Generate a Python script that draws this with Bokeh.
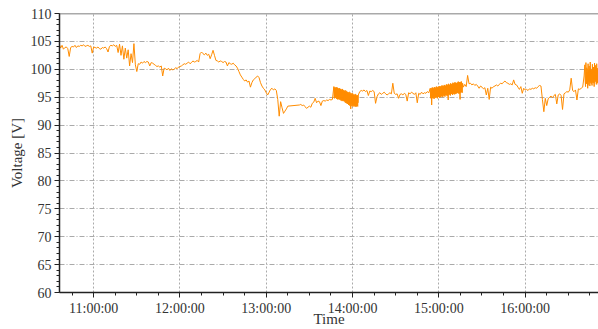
import pandas as pd
from bokeh.plotting import figure
from bokeh.models import (ColumnDataSource, FixedTicker, DatetimeTickFormatter,
                          SingleIntervalTicker, Range1d, Span)
from bokeh.embed import file_html
from bokeh.resources import INLINE

DAY = "2021-07-01"

# Voltage log, split into runs sampled every 60 s or every 15 s
run_1036 = [  # 10:36 .. 13:15, 60 s
    104.6, 103.8, 104.3, 103.6, 103.9, 104.0, 103.7, 102.3, 103.9, 104.1,
    104.0, 104.3, 103.9, 104.2, 104.1, 104.3, 104.2, 104.4, 104.1, 104.2,
    104.3, 104.1, 104.2, 102.9, 104.0, 103.9, 103.8, 104.0, 103.7, 103.6,
    103.9, 103.8, 104.0, 103.7, 103.1, 104.1, 104.3, 104.2, 104.4, 104.1,
    104.3, 103.0, 104.5, 102.5, 104.2, 101.8, 103.8, 102.0, 103.5, 100.6,
    102.8, 101.2, 104.6, 100.8, 99.6, 101.0, 100.9, 101.3, 101.1, 101.4,
    101.2, 101.4, 101.3, 100.6, 101.2, 101.1, 100.9, 100.7, 100.5, 100.6,
    100.4, 100.6, 98.8, 100.2, 100.1, 99.9, 100.2, 99.8, 100.1, 99.9,
    100.0, 100.3, 100.1, 100.4, 100.5, 100.6, 100.8, 101.0, 100.9, 101.1,
    101.3, 101.0, 101.2, 101.5, 101.3, 101.4, 101.6, 101.3, 102.8, 103.1,
    102.8, 102.6, 102.9, 102.5, 102.7, 101.9, 102.6, 103.4, 102.5, 101.6,
    101.5, 101.3, 101.5, 101.4, 101.2, 101.4, 101.3, 100.6, 101.2, 101.0,
    100.9, 101.1, 100.8, 100.6, 100.2, 99.6, 99.0, 98.6, 98.2, 97.9,
    98.1, 97.7, 97.9, 96.8, 97.6, 98.1, 98.3, 98.6, 98.8, 98.5,
    97.6, 97.0, 96.6, 96.3, 95.8, 95.4, 95.9, 96.4, 96.6, 96.3,
    96.5, 96.2, 94.6, 91.6, 94.2, 93.1, 92.1, 92.5, 92.9, 93.4,
]
run_1323 = [  # 13:23 .. 13:46, 60 s
    93.6, 93.7, 93.5, 93.6, 93.3, 93.0, 93.2, 93.4, 93.2, 93.9,
    94.1, 94.8, 94.0, 94.3, 94.2, 93.5, 94.3, 94.4, 94.3, 94.5,
    94.4, 94.6, 94.5, 94.6,
]
run_1347 = [  # 13:47 .. 14:04, 15 s
    96.9, 95.1, 94.8, 96.6, 95.4, 94.9, 96.8, 96.2, 94.7, 95.8, 96.7, 94.6,
    96.5, 95.0, 94.7, 96.6, 96.1, 94.5, 95.6, 96.5, 94.4, 96.3, 94.9, 94.3,
    96.4, 95.7, 94.4, 96.2, 94.8, 94.2, 96.1, 95.5, 94.0, 96.0, 94.6, 93.9,
    95.9, 95.2, 93.8, 95.8, 94.1, 93.6, 95.7, 95.0, 93.5, 95.6, 94.3, 92.9,
    95.5, 94.8, 93.4, 95.5, 93.9, 93.3, 95.4, 94.6, 93.4, 95.3, 93.8, 93.3,
    95.4, 94.2, 93.3, 95.2, 93.6, 93.4, 95.3, 94.0, 95.4,
]
run_1405 = [  # 14:05 .. 14:53, 60 s
    96.0, 96.2, 96.1, 96.3, 96.0, 96.2, 95.3, 96.1, 96.0, 96.2,
    96.0, 93.9, 95.1, 95.6, 95.8, 95.5, 95.7, 95.9, 95.6, 95.4,
    95.6, 95.8, 95.6, 97.5, 95.7, 95.5, 95.6, 94.8, 95.5, 95.6,
    95.4, 95.7, 95.5, 94.3, 95.8, 95.6, 95.9, 95.7, 95.5, 95.8,
    94.0, 95.7, 95.5, 95.9, 95.6, 95.8, 95.7, 96.0, 95.8,
]
run_1454 = [  # 14:54 .. 15:16:30, 15 s
    96.6, 95.2, 94.8, 96.4, 93.6, 95.9, 96.7, 94.9, 95.5, 96.5, 95.0, 94.7,
    96.8, 95.6, 94.9, 96.6, 95.1, 95.0, 96.9, 95.8, 94.8, 96.7, 95.3, 95.1,
    96.8, 96.0, 94.9, 97.0, 95.4, 95.0, 96.8, 96.2, 95.2, 97.1, 95.5, 95.0,
    96.9, 96.1, 95.3, 97.2, 95.6, 95.1, 97.0, 96.3, 95.4, 97.3, 95.7, 95.2,
    97.1, 96.4, 94.5, 97.4, 95.8, 95.5, 97.2, 96.5, 95.3, 97.5, 95.9, 95.6,
    97.3, 96.6, 95.4, 97.6, 96.0, 95.7, 97.4, 96.7, 95.5, 97.7, 96.2, 95.6,
    97.5, 96.8, 95.7, 97.6, 96.3, 95.8, 97.8, 96.9, 95.6, 97.7, 96.4, 94.6,
    97.6, 96.5, 95.9, 97.8, 96.6, 95.8, 97.5,
]
run_1517 = [  # 15:17 .. 16:41, 60 s
    96.8, 97.3, 96.9, 98.9, 97.4, 97.5, 97.2, 97.4, 97.1, 97.3,
    97.0, 96.6, 97.0, 96.8, 96.5, 96.7, 95.4, 96.6, 94.6, 96.8,
    96.6, 96.9, 97.0, 97.2, 97.0, 97.3, 97.5, 97.4, 97.7, 97.9,
    97.6, 97.5, 97.3, 97.4, 97.2, 98.1, 97.3, 97.2, 96.8, 96.4,
    96.9, 95.7, 96.6, 96.3, 96.4, 96.2, 96.5, 96.4, 96.6, 96.5,
    96.7, 96.6, 96.9, 97.1, 97.0, 94.6, 92.4, 94.8, 93.5, 94.7,
    95.0, 95.2, 94.9, 95.3, 95.5, 93.8, 95.4, 95.6, 95.3, 92.8,
    95.6, 95.8, 96.0, 95.9, 96.3, 98.4, 96.2, 96.0, 96.3, 94.5,
    96.5, 96.4, 96.6, 96.8, 98.8,
]
run_1641 = [  # 16:41:30 .. 16:51, 15 s
    100.8, 97.9, 96.9, 101.2, 98.6, 97.4, 99.5, 98.1, 96.6, 101.0,
    98.8, 97.8, 100.6, 98.2, 97.0, 101.3, 99.0, 97.5, 99.8, 98.4,
    97.1, 100.9, 98.9, 97.6, 100.4, 98.0, 96.9, 101.1, 99.2, 98.0,
    100.7, 98.5, 97.3, 101.0, 98.7, 97.6, 100.2, 98.3, 97.7,
]

# Envelopes of the fast oscillation bursts, one value per minute
burst_1347_hi = [96.9, 96.7, 96.8, 96.6, 96.6, 96.4, 96.5, 96.2, 96.3,
                 96.1, 95.9, 96.0, 95.7, 95.8, 95.5, 95.6, 95.4, 95.3]
burst_1347_lo = [94.8, 94.9, 94.7, 94.6, 94.7, 94.5, 94.4, 94.3, 94.4,
                 94.2, 94.0, 93.9, 93.8, 93.6, 93.5, 93.4, 93.4, 93.3]
burst_1454_hi = [96.6, 96.7, 96.8, 96.6, 96.9, 96.8, 97.0, 96.9, 97.1, 97.0, 97.2, 97.1,
                 97.3, 97.2, 97.4, 97.3, 97.5, 97.6, 97.5, 97.7, 97.6, 97.8, 97.6]
burst_1454_lo = [94.8, 94.9, 94.7, 95.0, 94.9, 95.1, 95.0, 95.2, 95.1, 95.3, 95.2, 95.4,
                 95.3, 95.5, 95.4, 95.6, 95.5, 95.7, 95.6, 95.8, 95.7, 95.8, 95.9]
burst_1642_hi = [100.1, 100.4, 99.8, 100.2, 99.9, 100.5, 99.7, 100.3, 100.0, 100.4]
burst_1642_lo = [97.2, 97.6, 97.0, 97.9, 97.3, 97.7, 97.4, 97.8, 97.2, 98.1]

runs = [
    ("10:36:00", "60s", run_1036),
    ("13:23:00", "60s", run_1323),
    ("13:47:00", "15s", run_1347),
    ("14:05:00", "60s", run_1405),
    ("14:54:00", "15s", run_1454),
    ("15:17:00", "60s", run_1517),
    ("16:41:30", "15s", run_1641),
]
bursts = [
    ("13:47:00", burst_1347_lo, burst_1347_hi),
    ("14:54:00", burst_1454_lo, burst_1454_hi),
    ("16:42:00", burst_1642_lo, burst_1642_hi),
]

hour_ticks = ["11:00:00", "12:00:00", "13:00:00", "14:00:00", "15:00:00", "16:00:00"]
x_start, x_end = "10:36:15", "16:51:00"

times, volts = [], []
for start, step, vals in runs:
    times.extend(pd.date_range(f"{DAY} {start}", periods=len(vals), freq=step))
    volts.extend(vals)

src = ColumnDataSource(dict(t=times, v=volts))


def ms(hms):
    return pd.Timestamp(f"{DAY} {hms}").value / 1e6


major = [ms(h) for h in hour_ticks]
minor = [ms("10:45:00") + i * 15 * 60 * 1000 for i in range(25)]

FONT = "Liberation Serif"
TXT = "#333333"
ORANGE = "#ff8c00"

p = figure(width=598, height=329, x_axis_type="datetime",
           output_backend="svg", toolbar_location=None,
           x_range=Range1d(ms(x_start), ms(x_end)),
           y_range=Range1d(60, 110),
           min_border_left=59, min_border_right=0,
           min_border_top=13, min_border_bottom=36)
p.outline_line_color = None
p.background_fill_color = "white"
p.border_fill_color = "white"

p.xgrid.grid_line_color = "#aaaaaa"
p.xgrid.grid_line_dash = "2 2"
p.ygrid.grid_line_color = "#aaaaaa"
p.ygrid.grid_line_dash = "5 2 1 2"

for start, lo, hi in bursts:
    bt = pd.date_range(f"{DAY} {start}", periods=len(lo), freq="60s")
    p.varea(x=bt, y1=lo, y2=hi, fill_color=ORANGE, fill_alpha=0.9)

p.line("t", "v", source=src, line_color=ORANGE, line_width=1)

# top frame edge
p.add_layout(Span(location=110, dimension="width", line_color="#555555", line_width=1.5))

xa = p.xaxis[0]
xa.ticker = FixedTicker(ticks=major, minor_ticks=minor)
xa.formatter = DatetimeTickFormatter(
    seconds="%H:%M:%S", minsec="%H:%M:%S", minutes="%H:%M:%S",
    hourmin="%H:%M:%S", hours="%H:%M:%S", days="%H:%M:%S")
xa.axis_label = "Time"

ya = p.yaxis[0]
ya.ticker = SingleIntervalTicker(interval=5, num_minor_ticks=5)
ya.axis_label = "Voltage [V]"

for ax in (xa, ya):
    ax.axis_line_color = "#222222"
    ax.axis_line_width = 1.5
    ax.major_tick_line_color = "#222222"
    ax.minor_tick_line_color = "#222222"
    ax.major_tick_in = 0
    ax.major_tick_out = 5
    ax.minor_tick_in = 0
    ax.minor_tick_out = 3
    ax.major_label_text_font = FONT
    ax.major_label_text_font_size = "14px"
    ax.major_label_text_color = TXT
    ax.major_label_standoff = 3
    ax.axis_label_text_font = FONT
    ax.axis_label_text_font_size = "15px"
    ax.axis_label_text_font_style = "normal"
    ax.axis_label_text_color = TXT

xa.axis_label_standoff = -8
xa.axis_label_text_line_height = 1.0
ya.axis_label_standoff = 3

open("out.html", "w").write(file_html(p, INLINE))
